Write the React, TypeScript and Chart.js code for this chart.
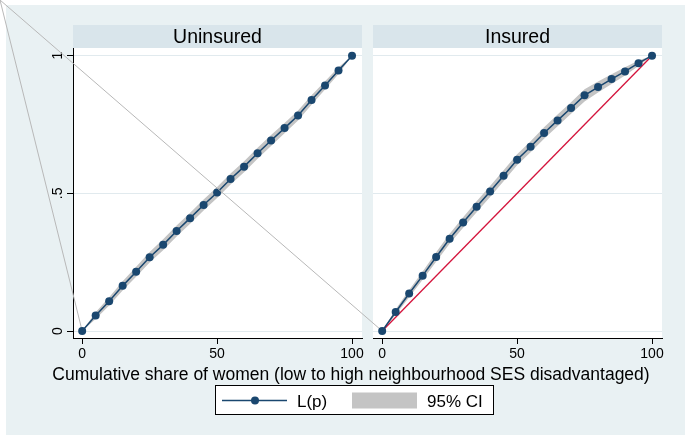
import React, { useEffect, useRef } from 'react';
import { Chart, registerables } from 'chart.js';

Chart.register(...registerables);

// ---------- data ----------
const shares = [0, 5, 10, 15, 20, 25, 30, 35, 40, 45, 50, 55, 60, 65, 70, 75, 80, 85, 90, 95, 100];

const uninsuredL = [0, 0.056, 0.108, 0.164, 0.215, 0.268, 0.313, 0.363, 0.41, 0.458, 0.503, 0.552, 0.597, 0.646, 0.692, 0.737, 0.783, 0.839, 0.892, 0.946, 1];
const uninsuredLow = [0, 0.044, 0.093, 0.147, 0.197, 0.249, 0.293, 0.343, 0.39, 0.438, 0.483, 0.532, 0.577, 0.626, 0.672, 0.718, 0.765, 0.822, 0.877, 0.934, 1];
const uninsuredHigh = [0, 0.068, 0.123, 0.181, 0.233, 0.287, 0.333, 0.383, 0.43, 0.478, 0.523, 0.572, 0.617, 0.666, 0.712, 0.756, 0.801, 0.856, 0.907, 0.958, 1];

const insuredL = [0, 0.069, 0.136, 0.201, 0.269, 0.335, 0.394, 0.451, 0.507, 0.564, 0.622, 0.669, 0.719, 0.765, 0.81, 0.856, 0.886, 0.915, 0.943, 0.973, 1];
const insuredLow = [0, 0.059, 0.123, 0.186, 0.252, 0.317, 0.375, 0.431, 0.487, 0.544, 0.602, 0.649, 0.698, 0.744, 0.789, 0.834, 0.866, 0.897, 0.928, 0.963, 1];
const insuredHigh = [0, 0.079, 0.149, 0.216, 0.286, 0.353, 0.413, 0.471, 0.527, 0.584, 0.642, 0.689, 0.74, 0.786, 0.831, 0.878, 0.906, 0.933, 0.958, 0.983, 1];

const equalityX = [0, 100];
const equalityY = [0, 1];

const panelTitles = ['Uninsured', 'Insured'];
const xTickValues = [0, 50, 100];
const yTickValues = [0, 0.5, 1];
const yTickLabels = ['0', '.5', '1'];
const xAxisTitle = 'Cumulative share of women (low to high neighbourhood SES disadvantaged)';
const legendLabels = ['L(p)', '95% CI'];

// ---------- styles ----------
const FONT = '"Liberation Sans", Arial, Helvetica, sans-serif';
const NAVY = '#1a476f';
const CI_GREY = '#c4c4c4';
const EQ_RED = '#d4143c';
const BG = '#e9f1f3';
const STRIP = '#d9e5eb';
const GRID = '#e1eaee';
const STRAY = '#b8b8b8';

const W = 685;
const H = 435;
const X_MIN = -3.4;
const X_MAX = 103.7;
const Y_MIN = -0.0254;
const Y_MAX = 1.028;

const pts = (xs: number[], ys: number[]) => xs.map((x, i) => ({ x, y: ys[i] }));

function makeDatasets(L: number[], low: number[], high: number[], withEq: boolean) {
  const ds: any[] = [
    {
      label: 'L(p)',
      data: pts(shares, L),
      borderColor: NAVY,
      backgroundColor: NAVY,
      borderWidth: 1.5,
      pointRadius: 4,
      pointBackgroundColor: NAVY,
      pointBorderWidth: 0,
      fill: false,
      order: 0,
    },
    {
      label: '95% CI upper',
      data: pts(shares, high),
      borderWidth: 0,
      borderColor: 'rgba(0,0,0,0)',
      backgroundColor: CI_GREY,
      pointRadius: 0,
      fill: '+1',
      order: 2,
    },
    {
      label: '95% CI lower',
      data: pts(shares, low),
      borderWidth: 0,
      borderColor: 'rgba(0,0,0,0)',
      pointRadius: 0,
      fill: false,
      order: 2,
    },
  ];
  if (withEq) {
    ds.push({
      label: 'Equality',
      data: pts(equalityX, equalityY),
      borderColor: EQ_RED,
      borderWidth: 1.3,
      pointRadius: 0,
      fill: false,
      order: 1,
    });
  }
  return ds;
}

function makeOptions(first: boolean): any {
  return {
    animation: false,
    responsive: false,
    events: [],
    layout: {
      padding: first
        ? { left: 67, right: 323, top: 48, bottom: 67 }
        : { left: 373, right: 23, top: 48, bottom: 67 },
    },
    plugins: {
      legend: { display: false },
      tooltip: { enabled: false },
      title: { display: false },
    },
    scales: {
      x: {
        type: 'linear',
        min: X_MIN,
        max: X_MAX,
        afterBuildTicks: (s: any) => {
          s.ticks = xTickValues.map((value) => ({ value }));
        },
        afterFit: (s: any) => {
          s.height = 30;
        },
        grid: { drawOnChartArea: false, drawTicks: true, tickLength: 6, color: '#000', tickColor: '#000' },
        border: { display: true, color: '#000', width: 1 },
        ticks: { color: '#000', font: { family: FONT, size: 14 }, padding: 2, maxRotation: 0, autoSkip: false },
      },
      y: {
        type: 'linear',
        min: Y_MIN,
        max: Y_MAX,
        afterBuildTicks: (s: any) => {
          s.ticks = yTickValues.map((value) => ({ value }));
        },
        afterFit: (s: any) => {
          s.width = first ? 6 : 0;
        },
        grid: { color: GRID, lineWidth: 1, drawTicks: first, tickLength: 6, tickColor: '#000' },
        border: { display: first, color: '#000', width: 1 },
        ticks: { display: false },
      },
    },
  };
}

function drawPanelFrame(ctx: CanvasRenderingContext2D, a: any, title: string) {
  ctx.fillStyle = '#fff';
  ctx.fillRect(a.left, a.top, a.right - a.left, a.bottom - a.top);
  ctx.fillStyle = STRIP;
  ctx.fillRect(a.left, 25, a.right - a.left, a.top - 25);
  ctx.fillStyle = '#000';
  ctx.font = `19.5px ${FONT}`;
  ctx.textAlign = 'center';
  ctx.textBaseline = 'alphabetic';
  ctx.fillText(title, (a.left + a.right) / 2, 42.7);
}

function drawStray(chart: any, Lvals: number[]) {
  const ctx = chart.ctx;
  const px = chart.scales.x.getPixelForValue(shares[0]);
  const py = chart.scales.y.getPixelForValue(Lvals[0]);
  ctx.save();
  ctx.strokeStyle = STRAY;
  ctx.lineWidth = 1;
  ctx.beginPath();
  ctx.moveTo(0, 0);
  ctx.lineTo(px, py);
  ctx.stroke();
  ctx.restore();
}

const panel1Plugin = {
  id: 'panel1',
  beforeDraw(chart: any) {
    const ctx = chart.ctx;
    ctx.save();
    ctx.fillStyle = '#fff';
    ctx.fillRect(0, 0, W, H);
    ctx.fillStyle = BG;
    ctx.fillRect(6, 5, W - 6, H - 5);
    drawPanelFrame(ctx, chart.chartArea, panelTitles[0]);
    ctx.restore();
  },
  beforeDatasetsDraw(chart: any) {
    drawStray(chart, uninsuredL);
  },
  afterDraw(chart: any) {
    const ctx = chart.ctx;
    const ys = chart.scales.y;
    ctx.save();
    // rotated y tick labels
    ctx.fillStyle = '#000';
    ctx.font = `14px ${FONT}`;
    ctx.textAlign = 'center';
    ctx.textBaseline = 'alphabetic';
    yTickValues.forEach((v, i) => {
      const py = ys.getPixelForValue(v);
      ctx.save();
      ctx.translate(62, py);
      ctx.rotate(-Math.PI / 2);
      ctx.fillText(yTickLabels[i], 0, 0);
      ctx.restore();
    });
    // x axis title
    ctx.font = `17.5px ${FONT}`;
    ctx.textAlign = 'center';
    ctx.fillText(xAxisTitle, 351, 380);
    // legend
    ctx.fillStyle = '#fff';
    ctx.fillRect(215.5, 385.5, 278, 29);
    ctx.strokeStyle = '#000';
    ctx.lineWidth = 1;
    ctx.strokeRect(215.5, 385.5, 278, 29);
    ctx.strokeStyle = NAVY;
    ctx.lineWidth = 1.5;
    ctx.beginPath();
    ctx.moveTo(222, 400.5);
    ctx.lineTo(287, 400.5);
    ctx.stroke();
    ctx.fillStyle = NAVY;
    ctx.beginPath();
    ctx.arc(255, 400.5, 4, 0, Math.PI * 2);
    ctx.fill();
    ctx.fillStyle = CI_GREY;
    ctx.fillRect(352, 392.5, 65, 16);
    ctx.fillStyle = '#000';
    ctx.font = `17px ${FONT}`;
    ctx.textAlign = 'left';
    ctx.fillText(legendLabels[0], 297, 407);
    ctx.fillText(legendLabels[1], 427, 407);
    ctx.restore();
  },
};

const panel2Plugin = {
  id: 'panel2',
  beforeDraw(chart: any) {
    const ctx = chart.ctx;
    ctx.save();
    drawPanelFrame(ctx, chart.chartArea, panelTitles[1]);
    ctx.restore();
  },
  beforeDatasetsDraw(chart: any) {
    drawStray(chart, insuredL);
  },
};

export default function App() {
  const ref1 = useRef<HTMLCanvasElement | null>(null);
  const ref2 = useRef<HTMLCanvasElement | null>(null);

  useEffect(() => {
    if (!ref1.current || !ref2.current) return;
    const c1 = new Chart(ref1.current, {
      type: 'line',
      data: { datasets: makeDatasets(uninsuredL, uninsuredLow, uninsuredHigh, false) },
      options: makeOptions(true),
      plugins: [panel1Plugin],
    } as any);
    const c2 = new Chart(ref2.current, {
      type: 'line',
      data: { datasets: makeDatasets(insuredL, insuredLow, insuredHigh, true) },
      options: makeOptions(false),
      plugins: [panel2Plugin],
    } as any);
    return () => {
      c1.destroy();
      c2.destroy();
    };
  }, []);

  return (
    <div style={{ position: 'fixed', left: 0, top: 0, width: W, height: H, background: '#fff' }}>
      <canvas ref={ref1} width={W} height={H} style={{ position: 'absolute', left: 0, top: 0 }} />
      <canvas ref={ref2} width={W} height={H} style={{ position: 'absolute', left: 0, top: 0 }} />
    </div>
  );
}
